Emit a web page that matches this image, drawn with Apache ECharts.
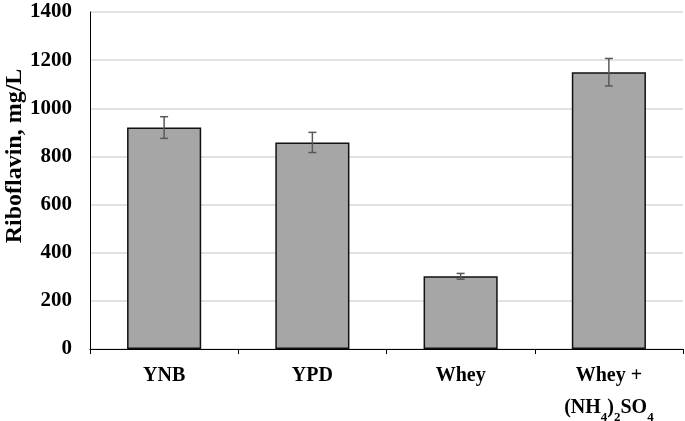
<!DOCTYPE html>
<html>
<head>
<meta charset="utf-8">
<script src="https://cdn.jsdelivr.net/npm/echarts@6/dist/echarts.min.js"></script>
<style>
  html, body { margin: 0; padding: 0; background: #fff; }
  #chart { width: 685px; height: 421px; }
</style>
</head>
<body>
<div id="chart"></div>
<script>
var categories = ['YNB', 'YPD', 'Whey', 'Whey +\n{n|(NH}{s|4}{n|)}{s|2}{n|SO}{s|4}'];
var riboflavin = [920, 858, 302, 1150];
var errors = [45, 42, 12, 57];
var yTitle = 'Riboflavin, mg/L';

var chart = echarts.init(document.getElementById('chart'));
var font = 'Liberation Serif, Times New Roman, serif';

var option = {
  animation: false,
  grid: { left: 90, right: 2, top: 12, bottom: 72, outerBoundsMode: 'none' },
  graphic: [{
    type: 'text',
    x: 15, y: 156,
    rotation: Math.PI / 2,
    style: {
      text: yTitle, fill: '#000', font: 'bold 24px ' + font,
      align: 'center', verticalAlign: 'middle'
    }
  }],
  xAxis: {
    type: 'category',
    data: categories,
    axisLine: { lineStyle: { color: '#000', width: 1 } },
    axisTick: { show: true, length: 5, lineStyle: { color: '#000' } },
    axisLabel: {
      interval: 0,
      color: '#000', fontFamily: font, fontWeight: 'bold', fontSize: 20,
      margin: 11, lineHeight: 32,
      rich: {
        n: { fontFamily: font, fontWeight: 'bold', fontSize: 20, color: '#000' },
        s: { fontFamily: font, fontWeight: 'bold', fontSize: 13, color: '#000', verticalAlign: 'bottom', padding: [5, 0, 0, 0] }
      }
    }
  },
  yAxis: {
    type: 'value',
    min: 0, max: 1400, interval: 200,
    axisLine: { show: true, lineStyle: { color: '#000', width: 1 } },
    axisTick: { show: false },
    axisLabel: {
      color: '#000', fontFamily: font, fontWeight: 'bold', fontSize: 21, margin: 18,
      formatter: function (v) { return String(v); }
    },
    splitLine: { lineStyle: { color: '#d9d9d9', width: 1.5 } }
  },
  series: [
    {
      type: 'bar',
      data: riboflavin,
      barWidth: '50%',
      itemStyle: { color: '#a6a6a6', borderColor: '#111', borderWidth: 1.5 }
    },
    {
      type: 'custom',
      data: riboflavin.map(function (v, i) { return [i, v - errors[i], v + errors[i]]; }),
      z: 10,
      renderItem: function (params, api) {
        var lo = api.coord([api.value(0), api.value(1)]);
        var hi = api.coord([api.value(0), api.value(2)]);
        var w = 4;
        var st = { stroke: '#595959', lineWidth: 1.5 };
        return {
          type: 'group',
          children: [
            { type: 'line', shape: { x1: hi[0], y1: hi[1], x2: lo[0], y2: lo[1] }, style: st },
            { type: 'line', shape: { x1: hi[0] - w, y1: hi[1], x2: hi[0] + w, y2: hi[1] }, style: st },
            { type: 'line', shape: { x1: lo[0] - w, y1: lo[1], x2: lo[0] + w, y2: lo[1] }, style: st }
          ]
        };
      }
    }
  ]
};
chart.setOption(option);
</script>
</body>
</html>
